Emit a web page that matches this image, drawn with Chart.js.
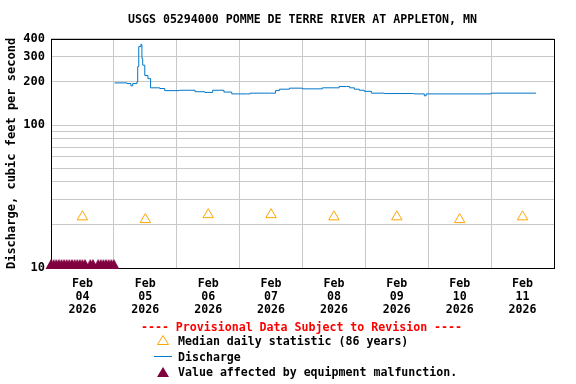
<!DOCTYPE html>
<html>
<head>
<meta charset="utf-8">
<script src="https://cdn.jsdelivr.net/npm/chart.js@4.4.1/dist/chart.umd.min.js"></script>
<style>
  html, body { margin: 0; padding: 0; background: #fff; }
  #wrap { position: relative; width: 576px; height: 384px; }
  #chart { position: absolute; left: 0; top: 0; }
  .lg { position: absolute; font: bold 11.6px "DejaVu Sans Mono", monospace; line-height: 14px; color: #000; white-space: pre; }
  .prov { left: 0; width: 603px; text-align: center; color: #ff0000; top: 320px; }
  svg { position: absolute; }
</style>
</head>
<body>
<div id="wrap">
  <canvas id="chart" width="576" height="384"></canvas>
  <div class="lg prov">---- Provisional Data Subject to Revision ----</div>
  <svg style="left:156px;top:333px" width="14" height="14"><polygon points="7,2.5 12.5,11.5 1.5,11.5" fill="none" stroke="#ffa500" stroke-width="1"/></svg>
  <div class="lg" style="left:178px;top:334px">Median daily statistic (86 years)</div>
  <svg style="left:152px;top:350px" width="22" height="14"><line x1="2" y1="6.5" x2="20" y2="6.5" stroke="#0077c8" stroke-width="1"/></svg>
  <div class="lg" style="left:178px;top:350px">Discharge</div>
  <svg style="left:156px;top:365px" width="14" height="14"><polygon points="7,2 13,12 1,12" fill="#800040"/></svg>
  <div class="lg" style="left:178px;top:365px">Value affected by equipment malfunction.</div>
</div>
<script>
(function () {
    "use strict";

    // Axis text
    var titleText = "USGS 05294000 POMME DE TERRE RIVER AT APPLETON, MN";
    var yTitle = "Discharge, cubic feet per second";
    var monthLabel = "Feb";
    var yearLabel = "2026";
    var dayLabels = ["04", "05", "06", "07", "08", "09", "10", "11"];
    var yTickValues = [10, 20, 30, 40, 50, 60, 70, 80, 90, 100, 200, 300, 400];
    var yLabelValues = [10, 100, 200, 300, 400];

    // Hours since Feb 04 00:00
    var dischargeHours = [24.25, 29, 30.5, 31.2, 32.8, 33.1, 33.5, 34.3, 34.7, 35, 35.8, 37, 38, 41.5, 43.4,
        49, 55, 58.7, 61.7, 66, 69, 75, 76, 83.4, 85.7, 87.2, 91, 96, 103.6, 110, 112.8, 114, 115.8,
        117.7, 119.6, 122.3, 127.2, 137.9, 138.7, 142.5, 143.2, 167.2, 168, 185.1];
    var dischargeCfs = [197, 195, 188, 195, 200, 256, 354, 366, 292, 262, 222, 211, 182, 180, 174,
        175, 171, 169, 175, 170, 165, 165, 167, 167, 174, 178, 181, 179, 182, 186, 186, 182, 178,
        175, 172, 167, 166, 166, 165, 160, 165, 165, 167, 167];

    var medianHours = [12, 36, 60, 84, 108, 132, 156, 180];
    var medianCfs = [22.8, 21.8, 23.6, 23.6, 22.8, 22.8, 21.8, 22.8];

    var malfunctionHours = [0, 1, 2, 3, 4, 5, 6, 7, 8, 9, 10, 11, 12, 13, 15, 16, 18, 19, 20, 21, 22, 23, 24];
    var malfunctionCfs = [10, 10, 10, 10, 10, 10, 10, 10, 10, 10, 10, 10, 10, 10, 10, 10, 10, 10, 10, 10, 10, 10, 10];

    var font = "'DejaVu Sans Mono', monospace";

    function pairs(xs, ys) {
        return xs.map(function (x, i) { return { x: x, y: ys[i] }; });
    }

    // filled triangle sitting on its point
    var tri = document.createElement("canvas");
    tri.width = 12;
    tri.height = 22;
    var tc = tri.getContext("2d");
    tc.fillStyle = "#800040";
    tc.beginPath();
    tc.moveTo(0.5, 12);
    tc.lineTo(11.5, 12);
    tc.lineTo(6, 2);
    tc.closePath();
    tc.fill();

    // Plot frame
    var framePlugin = {
        id: "frame",
        beforeDatasetsDraw: function (chart) {
            var a = chart.chartArea, c = chart.ctx;
            c.save();
            c.strokeStyle = "#000";
            c.lineWidth = 1;
            c.strokeRect(Math.round(a.left) + 0.5, Math.round(a.top) + 0.5,
                Math.round(a.right - a.left), Math.round(a.bottom - a.top));
            c.restore();
        }
    };

    var ctx = document.getElementById("chart").getContext("2d");
    new Chart(ctx, {
        type: "scatter",
        data: {
            datasets: [
                {
                    label: "Discharge",
                    data: pairs(dischargeHours, dischargeCfs),
                    showLine: true,
                    stepped: true,
                    borderColor: "#0077c8",
                    borderWidth: 1,
                    pointRadius: 0,
                    fill: false
                },
                {
                    label: "Median daily statistic (86 years)",
                    data: pairs(medianHours, medianCfs),
                    pointStyle: "triangle",
                    pointRadius: 6,
                    borderColor: "#ffa500",
                    backgroundColor: "rgba(0,0,0,0)",
                    borderWidth: 1
                },
                {
                    label: "Value affected by equipment malfunction.",
                    data: pairs(malfunctionHours, malfunctionCfs),
                    pointStyle: tri,
                    clip: false
                }
            ]
        },
        options: {
            responsive: false,
            animation: false,
            layout: { padding: { top: 1, left: 4, right: 22, bottom: 66 } },
            plugins: {
                legend: { display: false },
                tooltip: { enabled: false },
                title: {
                    display: true,
                    text: titleText,
                    fullSize: false,
                    color: "#000",
                    font: { family: font, size: 11.6, weight: "bold" },
                    padding: { top: 12, bottom: 12 }
                }
            },
            scales: {
                x: {
                    type: "linear",
                    min: 0,
                    max: 192,
                    afterBuildTicks: function (s) {
                        var t = [];
                        for (var h = 0; h <= 192; h += 12) t.push({ value: h });
                        s.ticks = t;
                    },
                    afterFit: function (s) { s.height = 50; },
                    border: { display: false },
                    grid: {
                        drawTicks: false,
                        lineWidth: 1,
                        color: function (c) {
                            return c.tick && c.tick.value % 24 === 0 ? "#c8c8c8" : "rgba(0,0,0,0)";
                        }
                    },
                    ticks: {
                        autoSkip: false,
                        maxRotation: 0,
                        padding: 9,
                        color: "#000",
                        font: { family: font, size: 11.6, weight: "bold", lineHeight: 13 / 11.6 },
                        callback: function (v) {
                            if (v % 24 !== 12) return "";
                            return [monthLabel, dayLabels[(v - 12) / 24], yearLabel];
                        }
                    }
                },
                y: {
                    type: "logarithmic",
                    min: 10,
                    max: 400,
                    afterBuildTicks: function (s) {
                        s.ticks = yTickValues.map(function (v) { return { value: v }; });
                    },
                    afterFit: function (s) { s.width = 47; },
                    border: { display: false },
                    grid: { drawTicks: false, color: "#c8c8c8", lineWidth: 1 },
                    ticks: {
                        padding: 6,
                        color: "#000",
                        font: { family: font, size: 12, weight: "bold" },
                        callback: function (v) {
                            return yLabelValues.indexOf(v) >= 0 ? String(v) : "";
                        }
                    },
                    title: {
                        display: true,
                        text: yTitle,
                        color: "#000",
                        font: { family: font, size: 12, weight: "bold" },
                        padding: { top: 1, bottom: 0 }
                    }
                }
            }
        },
        plugins: [framePlugin]
    });
})();
</script>
</body>
</html>
